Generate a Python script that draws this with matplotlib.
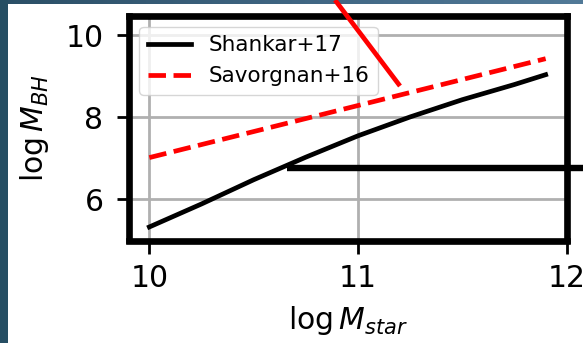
import numpy as np
import matplotlib
matplotlib.use("Agg")
import matplotlib.pyplot as plt
from matplotlib.lines import Line2D
from matplotlib.patches import Rectangle

# Black-hole mass vs stellar mass scaling relations
shankar_logmstar = [10.0, 10.25, 10.5, 10.75, 11.0, 11.25, 11.5, 11.75, 11.9]
shankar_logmbh = [5.33, 5.89, 6.48, 7.03, 7.55, 8.01, 8.43, 8.80, 9.04]

savorgnan_logmstar = [10.0, 11.9]
savorgnan_logmbh = [7.02, 9.43]

series_labels = ["Shankar+17", "Savorgnan+16"]
xtick_values = [10, 11, 12]
ytick_values = [6, 8, 10]

W, H, DPI = 583, 343, 100
fig = plt.figure(figsize=(W / DPI, H / DPI), dpi=DPI)
fig.patch.set_facecolor("#275066")

# slide backdrop: dark frame with a lighter gradient along the top edge
bg = fig.add_axes([0, 0, 1, 1], zorder=-10)
bg.set_axis_off()
grad = np.linspace(0, 1, 256)[None, :]
cmap = matplotlib.colors.LinearSegmentedColormap.from_list(
    "edge", ["#2b4f66", "#3f6582", "#527a98"])
bg.imshow(grad, aspect="auto", cmap=cmap,
          extent=[0, 1, 1 - 5 / H, 1], transform=bg.transAxes)
bg.add_patch(Rectangle((0, 0), 8 / W, 1, transform=bg.transAxes,
                       color="#264e63", lw=0))
bg.add_patch(Rectangle((8 / W, 0), 1, 1 - 4 / H, transform=bg.transAxes,
                       color="white", lw=0))
bg.set_xlim(0, 1)
bg.set_ylim(0, 1)

ax = fig.add_axes([128.5 / W, 1 - 240.5 / H, 438 / W, 224.5 / H])
ax.set_facecolor("white")

ax.plot(shankar_logmstar, shankar_logmbh, color="black", lw=3.4,
        label=series_labels[0])
ax.plot(savorgnan_logmstar, savorgnan_logmbh, color="red", lw=3.4,
        ls="--", label=series_labels[1])

ax.set_xlim(9.9, 12.0)
ax.set_ylim(5.0, 10.47)
ax.set_xticks(xtick_values)
ax.set_yticks(ytick_values)
ax.grid(True, color="#b0b0b0", lw=2.0)
ax.set_axisbelow(True)

for sp in ax.spines.values():
    sp.set_linewidth(4.8)
    sp.set_color("black")

ax.tick_params(axis="both", which="major", labelsize=21.5, length=9,
               width=2, color="black")
ax.tick_params(axis="x", pad=8)
ax.tick_params(axis="y", pad=9)

ax.set_xlabel(r"$\log M_{star}$", fontsize=21.5, labelpad=8)
ax.set_ylabel(r"$\log M_{BH}$", fontsize=21.5, labelpad=10)

leg = ax.legend(loc="upper left", fontsize=15.5, framealpha=0.8,
                edgecolor="#cccccc")

# pointer lines laid over the figure
fig.add_artist(Line2D([335 / W, 400 / W], [1.0, 1 - 86 / H], color="red",
                      lw=3.4, transform=fig.transFigure, zorder=20,
                      solid_capstyle="butt"))
fig.add_artist(Line2D([287 / W, 1.0], [1 - 168 / H, 1 - 168 / H],
                      color="black", lw=4.6, transform=fig.transFigure,
                      zorder=20, solid_capstyle="butt"))

fig.savefig("out.png", dpi=DPI, facecolor=fig.get_facecolor())
